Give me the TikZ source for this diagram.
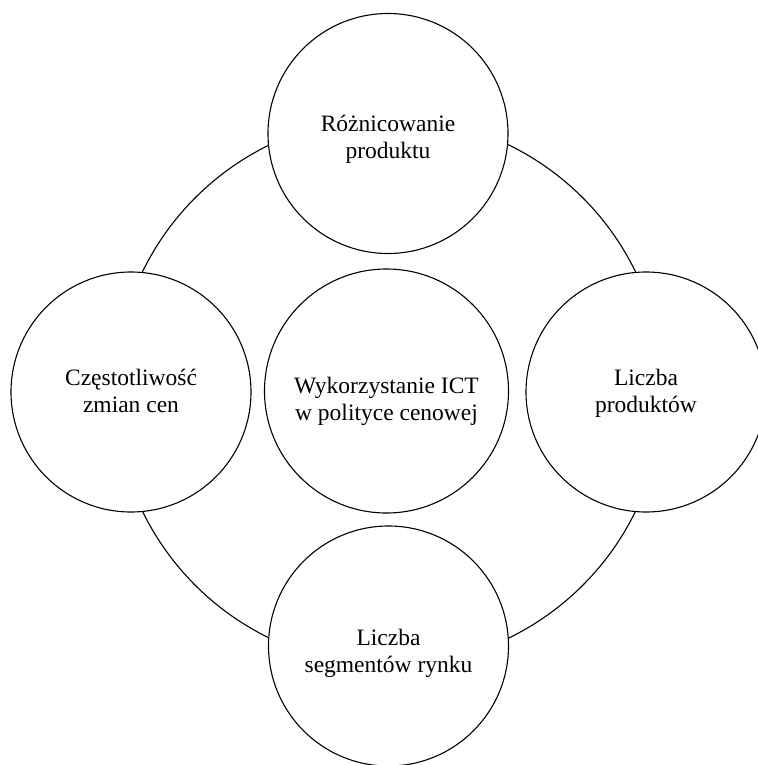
\documentclass[tikz,border=0pt]{standalone}
\usepackage{fontspec}
\setmainfont{Liberation Serif}
\begin{document}
\begin{tikzpicture}[x=1bp,y=-1bp,
  ringline/.style={draw=black,line width=1.1bp},
  caption/.style={align=center,inner sep=0pt,
    font=\fontsize{23.5bp}{27bp}\selectfont},
  bubble/.style={circle,draw=black,line width=1.1bp,fill=white,inner sep=0pt,
    minimum size=240bp},
  hubbubble/.style={bubble,minimum size=244bp}]
  \useasboundingbox (0,0) rectangle (758,765);
  \clip (0,0) rectangle (758,765);
  % ring linking the outer bubbles
  \coordinate (ringc) at (389,391.5);
  \draw[ringline] (ringc) circle[radius=274bp];
  % central bubble
  \node[hubbubble,label={[caption,yshift=-10bp]center:{Wykorzystanie ICT\\w polityce cenowej}}]
    (ict) at (386.5,391) {};
  % outer bubbles
  \node[bubble,label={[caption,yshift=-6bp]center:{Różnicowanie\\produktu}}]
    (roz) at (388,133.5) {};
  \node[bubble,label={[caption,yshift=1bp]center:{Częstotliwość\\zmian cen}}]
    (czes) at (131,392) {};
  \node[bubble,label={[caption,yshift=-1bp]center:{Liczba\\produktów}}]
    (prod) at (646,392) {};
  \node[bubble,label={[caption,yshift=-7bp]center:{Liczba\\segmentów rynku}}]
    (seg) at (388.5,646) {};
\end{tikzpicture}
\end{document}
